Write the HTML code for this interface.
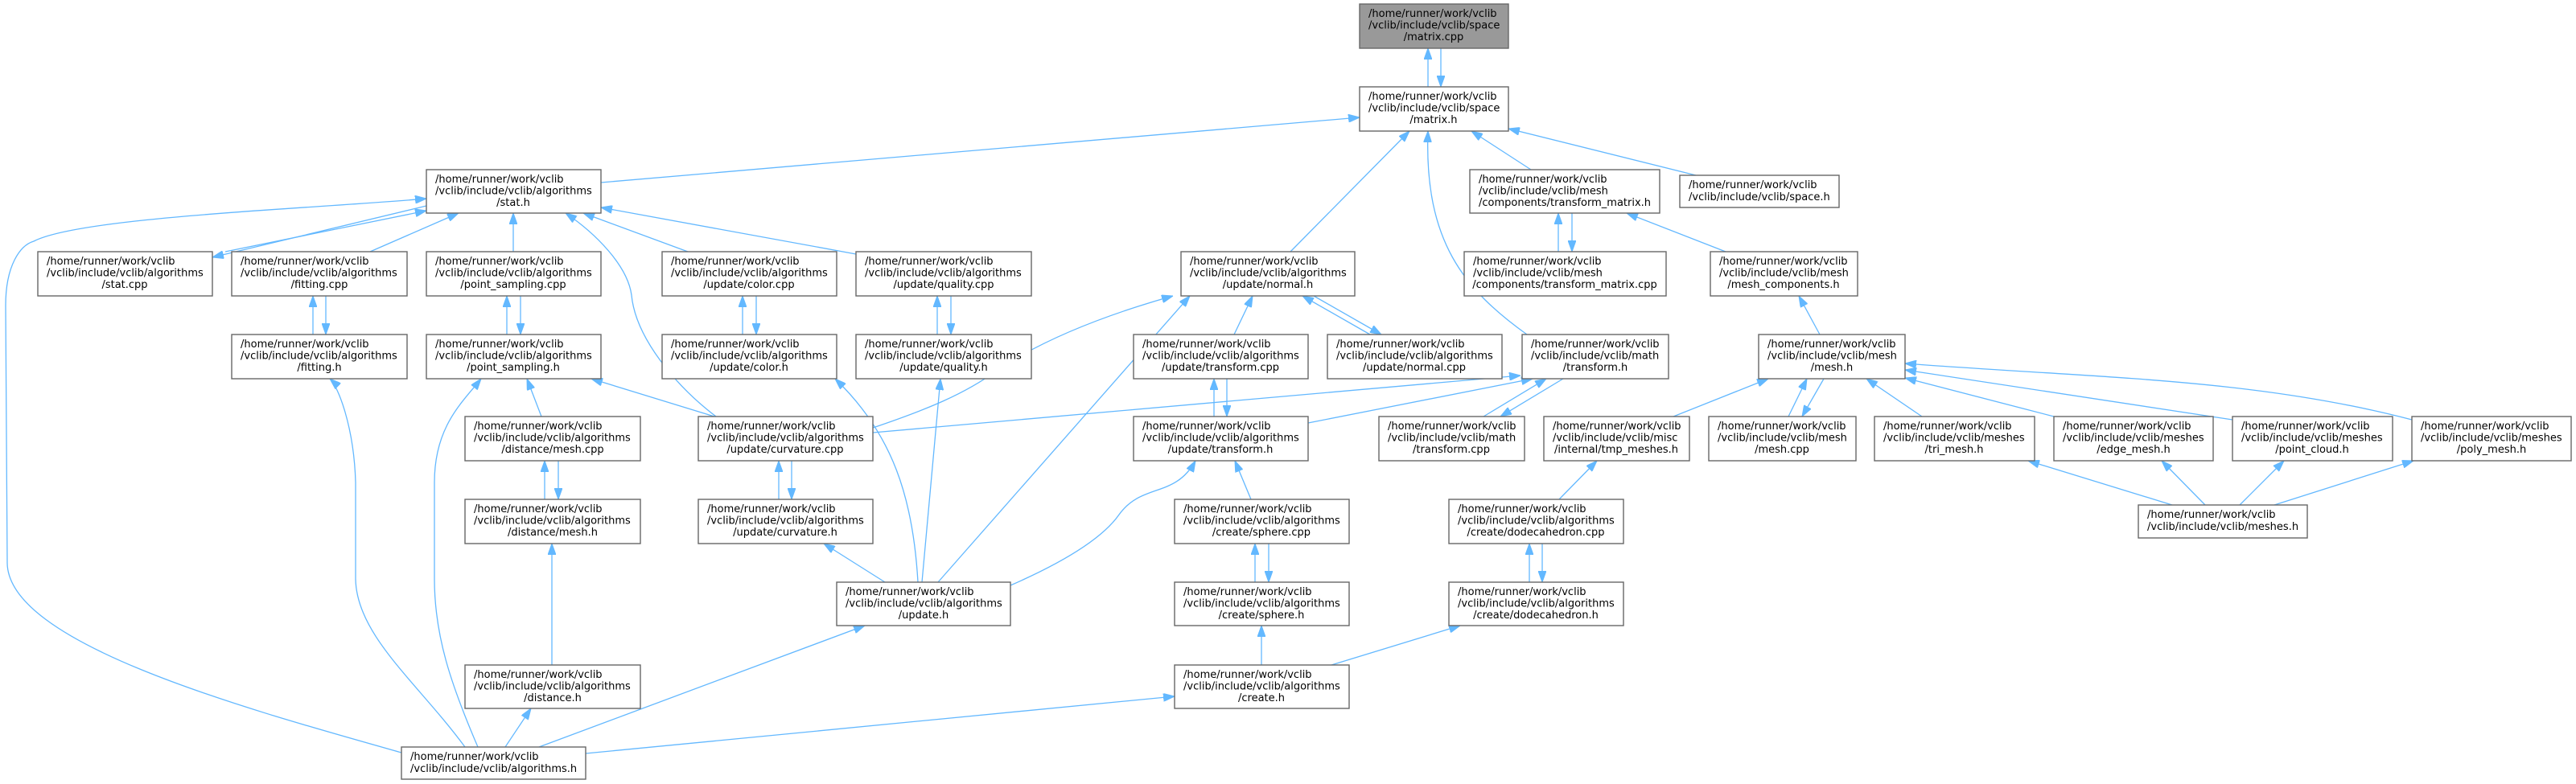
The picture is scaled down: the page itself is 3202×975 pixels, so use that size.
<!DOCTYPE html>
<html><head><meta charset="utf-8"><style>
html,body{margin:0;padding:0;background:#fff;}
svg{display:block;}
text{font-family:"DejaVu Sans","Liberation Sans",sans-serif;font-size:13px;fill:#000;}
.b{fill:#fff;stroke:#666;stroke-width:1.4;}
.g{fill:#999;stroke:#666;stroke-width:1.4;}
.e{fill:none;stroke:#63b8ff;stroke-width:1.3;marker-end:url(#a);}
.m{text-anchor:middle;}
</style></head><body>
<svg width="3202" height="975" viewBox="0 0 3202 975" xmlns="http://www.w3.org/2000/svg">
<defs><marker id="a" markerUnits="userSpaceOnUse" markerWidth="14" markerHeight="10" refX="14" refY="5" orient="auto"><path d="M0,0 L14,5 L0,10 z" fill="#63b8ff" stroke="#63b8ff"/></marker></defs>

<!-- edges -->
<line class="e" x1="1775" y1="108" x2="1775" y2="60"/>
<line class="e" x1="1791" y1="60" x2="1791" y2="108"/>
<line class="e" x1="747" y1="227" x2="1690" y2="146"/>
<line class="e" x1="1604" y1="313" x2="1752" y2="163"/>
<path class="e" d="M1898,416 C1820,360 1770,300 1775,163"/>
<line class="e" x1="1903" y1="211" x2="1829" y2="163"/>
<line class="e" x1="2108" y1="218" x2="1875" y2="160"/>
<line class="e" x1="1937" y1="313" x2="1937" y2="265"/>
<line class="e" x1="1954" y1="265" x2="1954" y2="313"/>
<line class="e" x1="2145" y1="313" x2="2022" y2="265"/>
<line class="e" x1="2262" y1="416" x2="2236" y2="368"/>
<line class="e" x1="530" y1="256" x2="264" y2="320"/>
<line class="e" x1="280" y1="313" x2="530" y2="262"/>
<line class="e" x1="460" y1="313" x2="570" y2="265"/>
<line class="e" x1="638" y1="313" x2="638" y2="265"/>
<path class="e" d="M890,518 C840,480 790,420 785,367 C780,330 740,290 703,265"/>
<line class="e" x1="855" y1="313" x2="725" y2="265"/>
<line class="e" x1="1064" y1="316" x2="747" y2="258"/>
<path class="e" d="M499,936 C300,880 10,800 9,700 L7,380 C7,330 25,305 42,300 C100,270 380,260 530,247"/>
<line class="e" x1="389" y1="416" x2="389" y2="368"/>
<line class="e" x1="405" y1="368" x2="405" y2="416"/>
<line class="e" x1="630" y1="416" x2="630" y2="368"/>
<line class="e" x1="647" y1="368" x2="647" y2="416"/>
<line class="e" x1="923" y1="416" x2="923" y2="368"/>
<line class="e" x1="940" y1="368" x2="940" y2="416"/>
<line class="e" x1="1165" y1="416" x2="1165" y2="368"/>
<line class="e" x1="1182" y1="368" x2="1182" y2="416"/>
<path class="e" d="M578,929 C520,850 443,790 442,720 L442,600 C440,530 420,480 410,471"/>
<path class="e" d="M594,929 C560,850 540,790 540,720 L540,600 C540,530 575,500 598,471"/>
<line class="e" x1="673" y1="518" x2="655" y2="471"/>
<line class="e" x1="888" y1="518" x2="735" y2="471"/>
<line class="e" x1="677" y1="621" x2="677" y2="573"/>
<line class="e" x1="694" y1="573" x2="694" y2="621"/>
<line class="e" x1="968" y1="621" x2="968" y2="573"/>
<line class="e" x1="984" y1="573" x2="984" y2="621"/>
<line class="e" x1="686" y1="827" x2="686" y2="676"/>
<line class="e" x1="628" y1="929" x2="660" y2="881"/>
<line class="e" x1="670" y1="929" x2="1075" y2="778"/>
<line class="e" x1="1100" y1="724" x2="1024" y2="676"/>
<path class="e" d="M1141,724 C1135,620 1110,540 1038,471"/>
<line class="e" x1="1146" y1="724" x2="1169" y2="471"/>
<line class="e" x1="1166" y1="724" x2="1479" y2="368"/>
<path class="e" d="M1085,532 C1150,510 1200,490 1240,460 C1300,420 1380,390 1458,368"/>
<line class="e" x1="1085" y1="538" x2="1890" y2="467"/>
<line class="e" x1="1626" y1="526" x2="1905" y2="471"/>
<line class="e" x1="1844" y1="518" x2="1922" y2="471"/>
<line class="e" x1="1943" y1="471" x2="1865" y2="518"/>
<line class="e" x1="1509" y1="518" x2="1509" y2="471"/>
<line class="e" x1="1525" y1="471" x2="1525" y2="518"/>
<line class="e" x1="1534" y1="416" x2="1557" y2="368"/>
<line class="e" x1="1703" y1="416" x2="1619" y2="368"/>
<line class="e" x1="1633" y1="368" x2="1717" y2="416"/>
<path class="e" d="M1256,728 C1320,700 1370,670 1391,640 C1420,600 1460,620 1486,573"/>
<line class="e" x1="2080" y1="518" x2="2198" y2="471"/>
<line class="e" x1="2223" y1="518" x2="2246" y2="471"/>
<line class="e" x1="2267" y1="471" x2="2240" y2="518"/>
<line class="e" x1="2389" y1="518" x2="2320" y2="471"/>
<line class="e" x1="2553" y1="518" x2="2368" y2="470"/>
<line class="e" x1="2775" y1="522" x2="2368" y2="460"/>
<path class="e" d="M2998,522 C2800,470 2600,470 2368,452"/>
<line class="e" x1="2700" y1="628" x2="2521" y2="573"/>
<line class="e" x1="2741" y1="628" x2="2687" y2="573"/>
<line class="e" x1="2784" y1="628" x2="2839" y2="573"/>
<line class="e" x1="2827" y1="628" x2="3000" y2="573"/>
<line class="e" x1="1938" y1="621" x2="1985" y2="573"/>
<line class="e" x1="1901" y1="724" x2="1901" y2="676"/>
<line class="e" x1="1917" y1="676" x2="1917" y2="724"/>
<line class="e" x1="1655" y1="827" x2="1815" y2="778"/>
<line class="e" x1="1560" y1="724" x2="1560" y2="676"/>
<line class="e" x1="1577" y1="676" x2="1577" y2="724"/>
<line class="e" x1="1568" y1="827" x2="1568" y2="778"/>
<line class="e" x1="1555" y1="621" x2="1535" y2="573"/>
<line class="e" x1="728" y1="937" x2="1460" y2="866"/>

<!-- nodes -->
<rect class="g" x="1690" y="5" width="185" height="55"/>
<text x="1701" y="21">/home/runner/work/vclib</text><text x="1701" y="35.5">/vclib/include/vclib/space</text><text class="m" x="1782" y="50">/matrix.cpp</text>

<rect class="b" x="1690" y="108" width="185" height="55"/>
<text x="1701" y="124">/home/runner/work/vclib</text><text x="1701" y="138.5">/vclib/include/vclib/space</text><text class="m" x="1782" y="153">/matrix.h</text>

<rect class="b" x="530" y="211" width="217" height="54"/>
<text x="541" y="227">/home/runner/work/vclib</text><text x="541" y="241.5">/vclib/include/vclib/algorithms</text><text class="m" x="638" y="256">/stat.h</text>

<rect class="b" x="1827" y="211" width="236" height="54"/>
<text x="1838" y="227">/home/runner/work/vclib</text><text x="1838" y="241.5">/vclib/include/vclib/mesh</text><text class="m" x="1945" y="256">/components/transform_matrix.h</text>

<rect class="b" x="2088" y="218" width="198" height="40"/>
<text x="2099" y="234">/home/runner/work/vclib</text><text x="2099" y="249">/vclib/include/vclib/space.h</text>

<!-- row4 -->
<rect class="b" x="47" y="313" width="217" height="55"/>
<text x="58" y="329">/home/runner/work/vclib</text><text x="58" y="343.5">/vclib/include/vclib/algorithms</text><text class="m" x="155" y="358">/stat.cpp</text>
<rect class="b" x="288" y="313" width="218" height="55"/>
<text x="299" y="329">/home/runner/work/vclib</text><text x="299" y="343.5">/vclib/include/vclib/algorithms</text><text class="m" x="397" y="358">/fitting.cpp</text>
<rect class="b" x="530" y="313" width="217" height="55"/>
<text x="541" y="329">/home/runner/work/vclib</text><text x="541" y="343.5">/vclib/include/vclib/algorithms</text><text class="m" x="638" y="358">/point_sampling.cpp</text>
<rect class="b" x="823" y="313" width="217" height="55"/>
<text x="834" y="329">/home/runner/work/vclib</text><text x="834" y="343.5">/vclib/include/vclib/algorithms</text><text class="m" x="931" y="358">/update/color.cpp</text>
<rect class="b" x="1064" y="313" width="218" height="55"/>
<text x="1075" y="329">/home/runner/work/vclib</text><text x="1075" y="343.5">/vclib/include/vclib/algorithms</text><text class="m" x="1173" y="358">/update/quality.cpp</text>
<rect class="b" x="1468" y="313" width="216" height="55"/>
<text x="1479" y="329">/home/runner/work/vclib</text><text x="1479" y="343.5">/vclib/include/vclib/algorithms</text><text class="m" x="1576" y="358">/update/normal.h</text>
<rect class="b" x="1820" y="313" width="251" height="55"/>
<text x="1831" y="329">/home/runner/work/vclib</text><text x="1831" y="343.5">/vclib/include/vclib/mesh</text><text class="m" x="1945" y="358">/components/transform_matrix.cpp</text>
<rect class="b" x="2126" y="313" width="183" height="55"/>
<text x="2137" y="329">/home/runner/work/vclib</text><text x="2137" y="343.5">/vclib/include/vclib/mesh</text><text class="m" x="2217" y="358">/mesh_components.h</text>

<!-- row5 -->
<rect class="b" x="288" y="416" width="218" height="55"/>
<text x="299" y="432">/home/runner/work/vclib</text><text x="299" y="446.5">/vclib/include/vclib/algorithms</text><text class="m" x="397" y="461">/fitting.h</text>
<rect class="b" x="530" y="416" width="217" height="55"/>
<text x="541" y="432">/home/runner/work/vclib</text><text x="541" y="446.5">/vclib/include/vclib/algorithms</text><text class="m" x="638" y="461">/point_sampling.h</text>
<rect class="b" x="823" y="416" width="217" height="55"/>
<text x="834" y="432">/home/runner/work/vclib</text><text x="834" y="446.5">/vclib/include/vclib/algorithms</text><text class="m" x="931" y="461">/update/color.h</text>
<rect class="b" x="1064" y="416" width="218" height="55"/>
<text x="1075" y="432">/home/runner/work/vclib</text><text x="1075" y="446.5">/vclib/include/vclib/algorithms</text><text class="m" x="1173" y="461">/update/quality.h</text>
<rect class="b" x="1409" y="416" width="217" height="55"/>
<text x="1420" y="432">/home/runner/work/vclib</text><text x="1420" y="446.5">/vclib/include/vclib/algorithms</text><text class="m" x="1517" y="461">/update/transform.cpp</text>
<rect class="b" x="1650" y="416" width="217" height="55"/>
<text x="1661" y="432">/home/runner/work/vclib</text><text x="1661" y="446.5">/vclib/include/vclib/algorithms</text><text class="m" x="1758" y="461">/update/normal.cpp</text>
<rect class="b" x="1892" y="416" width="182" height="55"/>
<text x="1903" y="432">/home/runner/work/vclib</text><text x="1903" y="446.5">/vclib/include/vclib/math</text><text class="m" x="1983" y="461">/transform.h</text>
<rect class="b" x="2186" y="416" width="182" height="55"/>
<text x="2197" y="432">/home/runner/work/vclib</text><text x="2197" y="446.5">/vclib/include/vclib/mesh</text><text class="m" x="2277" y="461">/mesh.h</text>

<!-- row6 -->
<rect class="b" x="578" y="518" width="218" height="55"/>
<text x="589" y="534">/home/runner/work/vclib</text><text x="589" y="548.5">/vclib/include/vclib/algorithms</text><text class="m" x="687" y="563">/distance/mesh.cpp</text>
<rect class="b" x="868" y="518" width="217" height="55"/>
<text x="879" y="534">/home/runner/work/vclib</text><text x="879" y="548.5">/vclib/include/vclib/algorithms</text><text class="m" x="976" y="563">/update/curvature.cpp</text>
<rect class="b" x="1409" y="518" width="217" height="55"/>
<text x="1420" y="534">/home/runner/work/vclib</text><text x="1420" y="548.5">/vclib/include/vclib/algorithms</text><text class="m" x="1517" y="563">/update/transform.h</text>
<rect class="b" x="1714" y="518" width="181" height="55"/>
<text x="1725" y="534">/home/runner/work/vclib</text><text x="1725" y="548.5">/vclib/include/vclib/math</text><text class="m" x="1804" y="563">/transform.cpp</text>
<rect class="b" x="1919" y="518" width="181" height="55"/>
<text x="1930" y="534">/home/runner/work/vclib</text><text x="1930" y="548.5">/vclib/include/vclib/misc</text><text class="m" x="2009" y="563">/internal/tmp_meshes.h</text>
<rect class="b" x="2124" y="518" width="183" height="55"/>
<text x="2135" y="534">/home/runner/work/vclib</text><text x="2135" y="548.5">/vclib/include/vclib/mesh</text><text class="m" x="2215" y="563">/mesh.cpp</text>
<rect class="b" x="2330" y="518" width="199" height="55"/>
<text x="2341" y="534">/home/runner/work/vclib</text><text x="2341" y="548.5">/vclib/include/vclib/meshes</text><text class="m" x="2429" y="563">/tri_mesh.h</text>
<rect class="b" x="2553" y="518" width="198" height="55"/>
<text x="2564" y="534">/home/runner/work/vclib</text><text x="2564" y="548.5">/vclib/include/vclib/meshes</text><text class="m" x="2652" y="563">/edge_mesh.h</text>
<rect class="b" x="2775" y="518" width="199" height="55"/>
<text x="2786" y="534">/home/runner/work/vclib</text><text x="2786" y="548.5">/vclib/include/vclib/meshes</text><text class="m" x="2874" y="563">/point_cloud.h</text>
<rect class="b" x="2998" y="518" width="198" height="55"/>
<text x="3009" y="534">/home/runner/work/vclib</text><text x="3009" y="548.5">/vclib/include/vclib/meshes</text><text class="m" x="3097" y="563">/poly_mesh.h</text>

<!-- row7 -->
<rect class="b" x="578" y="621" width="218" height="55"/>
<text x="589" y="637">/home/runner/work/vclib</text><text x="589" y="651.5">/vclib/include/vclib/algorithms</text><text class="m" x="687" y="666">/distance/mesh.h</text>
<rect class="b" x="868" y="621" width="217" height="55"/>
<text x="879" y="637">/home/runner/work/vclib</text><text x="879" y="651.5">/vclib/include/vclib/algorithms</text><text class="m" x="976" y="666">/update/curvature.h</text>
<rect class="b" x="1460" y="621" width="217" height="55"/>
<text x="1471" y="637">/home/runner/work/vclib</text><text x="1471" y="651.5">/vclib/include/vclib/algorithms</text><text class="m" x="1568" y="666">/create/sphere.cpp</text>
<rect class="b" x="1801" y="621" width="217" height="55"/>
<text x="1812" y="637">/home/runner/work/vclib</text><text x="1812" y="651.5">/vclib/include/vclib/algorithms</text><text class="m" x="1909" y="666">/create/dodecahedron.cpp</text>
<rect class="b" x="2658" y="628" width="210" height="41"/>
<text x="2669" y="644">/home/runner/work/vclib</text><text x="2669" y="659">/vclib/include/vclib/meshes.h</text>

<!-- row8 -->
<rect class="b" x="1040" y="724" width="216" height="54"/>
<text x="1051" y="740">/home/runner/work/vclib</text><text x="1051" y="754.5">/vclib/include/vclib/algorithms</text><text class="m" x="1148" y="769">/update.h</text>
<rect class="b" x="1460" y="724" width="217" height="54"/>
<text x="1471" y="740">/home/runner/work/vclib</text><text x="1471" y="754.5">/vclib/include/vclib/algorithms</text><text class="m" x="1568" y="769">/create/sphere.h</text>
<rect class="b" x="1801" y="724" width="217" height="54"/>
<text x="1812" y="740">/home/runner/work/vclib</text><text x="1812" y="754.5">/vclib/include/vclib/algorithms</text><text class="m" x="1909" y="769">/create/dodecahedron.h</text>

<!-- row9 -->
<rect class="b" x="578" y="827" width="218" height="54"/>
<text x="589" y="843">/home/runner/work/vclib</text><text x="589" y="857.5">/vclib/include/vclib/algorithms</text><text class="m" x="687" y="872">/distance.h</text>
<rect class="b" x="1460" y="827" width="217" height="54"/>
<text x="1471" y="843">/home/runner/work/vclib</text><text x="1471" y="857.5">/vclib/include/vclib/algorithms</text><text class="m" x="1568" y="872">/create.h</text>

<!-- row10 -->
<rect class="b" x="499" y="929" width="229" height="40"/>
<text x="510" y="945">/home/runner/work/vclib</text><text x="510" y="960">/vclib/include/vclib/algorithms.h</text>
</svg>
</body></html>
